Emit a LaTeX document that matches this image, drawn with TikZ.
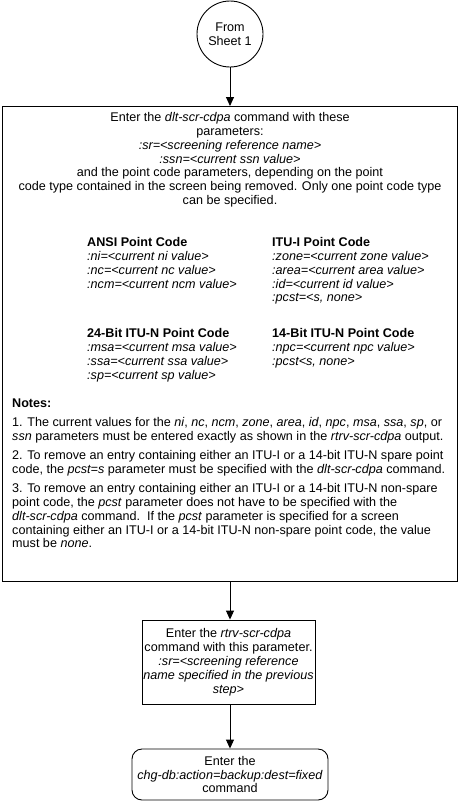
\documentclass[tikz,border=0pt]{standalone}
\usepackage{fontspec}
\setmainfont{Liberation Sans}
\usetikzlibrary{arrows.meta}
\tikzset{
  boxline/.style={draw, line width=0.9pt},
  flowarrow/.style={line width=0.9pt, -{Triangle[width=8pt,length=9pt]}},
  txt/.style={inner sep=0pt, font=\fontsize{12.6}{13.9}\selectfont},
}
\begin{document}
\begin{tikzpicture}[x=1pt,y=-1pt]
\useasboundingbox (0,0) rectangle (459,801);
% start connector
\node[circle, boxline, minimum size=66pt, inner sep=0pt, align=center, txt] (start) at (230,34) {From\\Sheet 1};
% main box
\node[boxline, minimum width=455pt, minimum height=475pt, anchor=north west, inner sep=0pt] (main) at (2,106) {};
\node[txt, align=center, anchor=north] (intro) at (230,112) {Enter the \textit{dlt-scr-cdpa} command with these\\
parameters:\\
\textit{:sr=<screening reference name>}\\
\textit{:ssn=<current ssn value>}\\
and the point code parameters, depending on the point\\
code type contained in the screen being removed. Only one point code type\\
can be specified.};
\node[txt, align=left, anchor=north west] (ansi) at (87,237) {\textbf{ANSI Point Code}\\
\textit{:ni=<current ni value>}\\
\textit{:nc=<current nc value>}\\
\textit{:ncm=<current ncm value>}};
\node[txt, align=left, anchor=north west] (itui) at (272,237) {\textbf{ITU-I Point Code}\\
\textit{:zone=<current zone value>}\\
\textit{:area=<current area value>}\\
\textit{:id=<current id value>}\\
\textit{:pcst=<s, none>}};
\node[txt, align=left, anchor=north west] (itun24) at (87,328) {\textbf{24-Bit ITU-N Point Code}\\
\textit{:msa=<current msa value>}\\
\textit{:ssa=<current ssa value>}\\
\textit{:sp=<current sp value>}};
\node[txt, align=left, anchor=north west] (itun14) at (272,328) {\textbf{14-Bit ITU-N Point Code}\\
\textit{:npc=<current npc value>}\\
\textit{:pcst<s, none>}};
\node[txt, align=left, anchor=north west] (notes) at (12,399) {\textbf{Notes:}\\[5pt]
1. The current values for the \textit{ni}, \textit{nc}, \textit{ncm}, \textit{zone}, \textit{area}, \textit{id}, \textit{npc}, \textit{msa}, \textit{ssa}, \textit{sp}, or\\
\textit{ssn} parameters must be entered exactly as shown in the \textit{rtrv-scr-cdpa} output.\\[5pt]
2. To remove an entry containing either an ITU-I or a 14-bit ITU-N spare point\\
code, the \textit{pcst=s} parameter must be specified with the \textit{dlt-scr-cdpa} command.\\[5pt]
3. To remove an entry containing either an ITU-I or a 14-bit ITU-N non-spare\\
point code, the \textit{pcst} parameter does not have to be specified with the\\
\textit{dlt-scr-cdpa} command.\ \ If the \textit{pcst} parameter is specified for a screen\\
containing either an ITU-I or a 14-bit ITU-N non-spare point code, the value\\
must be \textit{none}.};
% rtrv box
\node[boxline, minimum width=173pt, minimum height=84pt, inner sep=0pt, align=center, txt] (rtrv) at (228.5,662) {Enter the \textit{rtrv-scr-cdpa}\\
command with this parameter.\\
\textit{:sr=<screening reference}\\
\textit{name specified in the previous}\\
\textit{step>}};
% end terminal
\node[boxline, rounded corners=10pt, minimum width=196pt, minimum height=51pt, inner sep=0pt, align=center, txt] (finish) at (230,774.5) {Enter the\\
\textit{chg-db:action=backup:dest=fixed}\\
command};
% connectors
\draw[flowarrow] (start.south) -- (start.south |- main.north);
\draw[flowarrow] (main.south -| start.south) -- (rtrv.north -| start.south);
\draw[flowarrow] (rtrv.south -| finish.north) -- (finish.north);
\end{tikzpicture}
\end{document}
